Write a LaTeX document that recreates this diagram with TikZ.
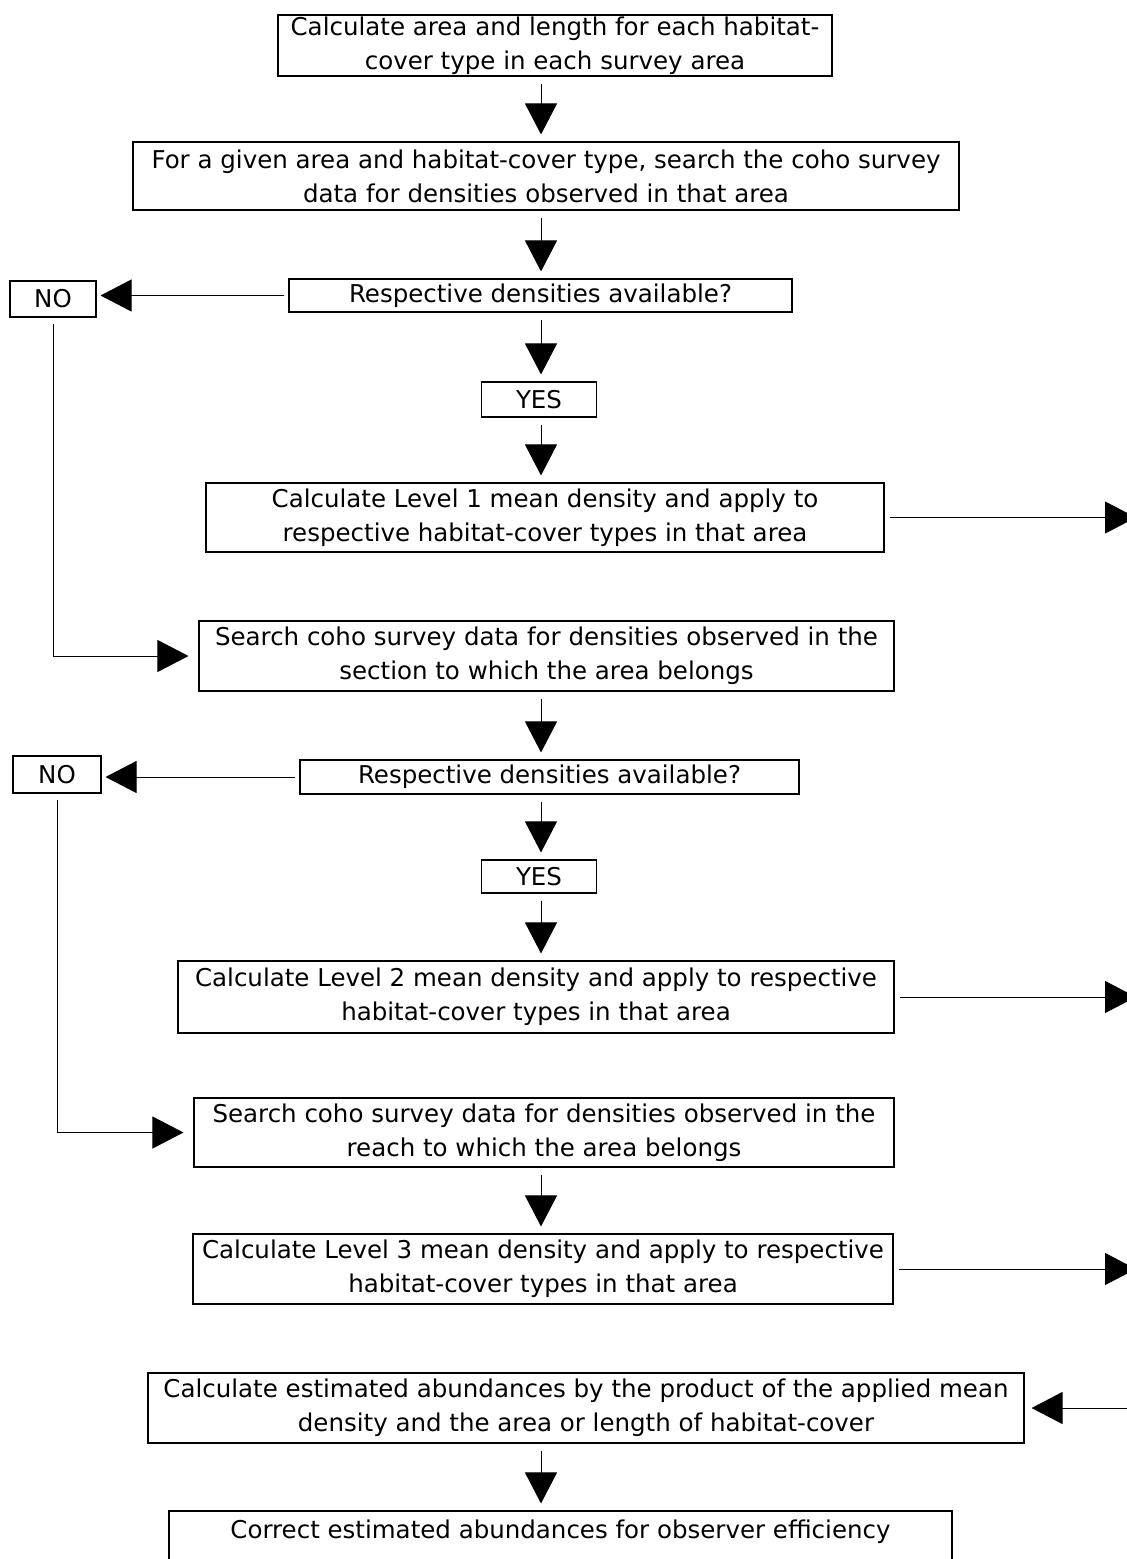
\documentclass[tikz,border=0pt]{standalone}
\usepackage{fontspec}
\setmainfont{DejaVu Sans}
\usetikzlibrary{arrows.meta}
\begin{document}
\begin{tikzpicture}[x=1pt,y=-1pt,
  box/.style={draw,line width=1.1pt,align=center,inner sep=0pt,
    font=\fontsize{24.5}{34}\selectfont},
  boxsize/.style 2 args={minimum width=#1pt,minimum height=#2pt},
  flow/.style={line width=1pt,-{Triangle[length=31pt,width=32pt]},
    shorten <=7pt,shorten >=7pt}]%coho abundance flow
\useasboundingbox (0,0) rectangle (1127,1559);
\coordinate (spine) at (541,0);
\coordinate (edge) at (1136,0);
\node[box,boxsize={554}{61}] (A) at (555,45.5)
  {Calculate area and length for each habitat-\\cover type in each survey area};
\node[box,boxsize={826}{68}] (B) at (546,176)
  {For a given area and habitat-cover type, search the coho survey\\data for densities observed in that area};
\node[box,boxsize={503}{33}] (C) at (540.5,295.5) {Respective densities available?};
\node[box,boxsize={86}{36}] (noA) at (53,299) {NO};
\node[box,boxsize={115}{35}] (yesA) at (539,399.5) {YES};
\node[box,boxsize={678}{69}] (D) at (545,517.5)
  {Calculate Level 1 mean density and apply to\\respective habitat-cover types in that area};
\node[box,boxsize={695}{70}] (E) at (546.5,656)
  {Search coho survey data for densities observed in the\\section to which the area belongs};
\node[box,boxsize={499}{34}] (F) at (549.5,777) {Respective densities available?};
\node[box,boxsize={88}{37}] (noB) at (57,774.5) {NO};
\node[box,boxsize={115}{33}] (yesB) at (539,876.5) {YES};
\node[box,boxsize={716}{72}] (G) at (536,997)
  {Calculate Level 2 mean density and apply to respective\\habitat-cover types in that area};
\node[box,boxsize={700}{69}] (H) at (544,1132.5)
  {Search coho survey data for densities observed in the\\reach to which the area belongs};
\node[box,boxsize={700}{70}] (I) at (543,1269)
  {Calculate Level 3 mean density and apply to respective\\habitat-cover types in that area};
\node[box,boxsize={876}{70}] (J) at (586,1408)
  {Calculate estimated abundances by the product of the applied mean\\density and the area or length of habitat-cover};
\node[box,boxsize={783}{70}] (K) at (560.5,1546)
  {Correct estimated abundances for observer efficiency\\\mbox{}};
\foreach \a/\b in {A/B,B/C,C/yesA,yesA/D,E/F,F/yesB,yesB/G,H/I,J/K}
  \draw[flow] (\a.south -| spine) -- (\b.north -| spine);
\draw[flow,shorten <=4pt,shorten >=4pt] (C.west) -- (C.west -| noA.east);
\draw[flow,shorten <=4pt,shorten >=4pt] (F.west) -- (F.west -| noB.east);
\draw[flow,shorten <=6pt,shorten >=10pt] (noA.south) |- (E.west);
\draw[flow,shorten <=6pt,shorten >=10pt] (noB.south) |- (H.west);
\foreach \a in {D,G,I}
  \draw[flow,shorten <=5pt,shorten >=0pt] (\a.east) -- (\a.east -| edge);
\draw[flow,shorten <=0pt] (J.east -| edge) -- (J.east);
\end{tikzpicture}
\end{document}
